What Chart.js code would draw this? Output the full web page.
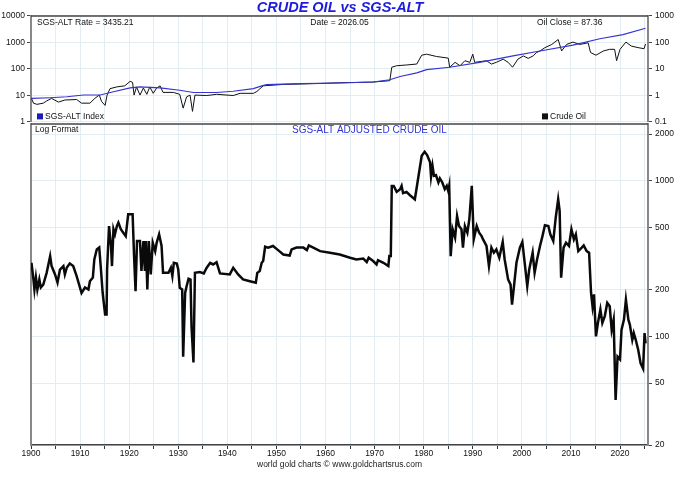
<!DOCTYPE html>
<html>
<head>
<meta charset="utf-8">
<script src="https://cdn.jsdelivr.net/npm/chart.js@4/dist/chart.umd.min.js"></script>
<style>
  html, body { margin: 0; padding: 0; background: #fff; }
  #wrap { position: relative; width: 680px; height: 478px; }
  #topBox { position: absolute; left: 0; top: 0; width: 680px; height: 130px; }
  #botBox { position: absolute; left: 0; top: 114px; width: 680px; height: 364px; }
</style>
</head>
<body>
<div id="wrap">
  <div id="topBox"><canvas id="topChart"></canvas></div>
  <div id="botBox"><canvas id="botChart"></canvas></div>
</div>
<script>
// header numbers
const RATE = 3435.21;
const DATE = '2026.05';
const OIL_CLOSE = 87.36;

// x axis
const X_MIN = 1900;
const X_MAX = 2025.7;
const gridYears = [1900, 1905, 1910, 1915, 1920, 1925, 1930, 1935, 1940, 1945, 1950, 1955, 1960,
  1965, 1970, 1975, 1980, 1985, 1990, 1995, 2000, 2005, 2010, 2015, 2020, 2025];

// tick labels
const topLeftTicks = [1, 10, 100, 1000, 10000];
const topRightTicks = [0.1, 1, 10, 100, 1000];
const botTicks = [20, 50, 100, 200, 500, 1000, 2000];

// top panel: SGS-ALT index (left scale)
const indexYears = [1900.1, 1903.9, 1907.3, 1910.7, 1914.1, 1916.8, 1920.2, 1922.2, 1926.3, 1930.3,
  1933.1, 1937.8, 1941.2, 1945.3, 1947.0, 1948.0, 1954.8, 1962.9, 1969.7, 1973.1, 1975.2, 1978.6,
  1980.6, 1985.3, 1991.4, 1998.2, 2003.7, 2010.4, 2015.9, 2020.6, 2025.2];
const indexValues = [7.7, 8.2, 8.9, 10.3, 10.3, 13.7, 19.3, 21, 19.3, 15.7,
  12.9, 12.9, 14.3, 18.1, 22.9, 25.6, 27.8, 29.4, 32.1, 39, 52, 71,
  94, 116, 177, 311, 476, 794, 1371, 1977, 3435];

// top panel: crude oil (right scale)
const oilYears = [1900.1, 1900.5, 1901.2, 1902.5, 1903.2, 1904.2, 1905.6, 1906.9, 1909.3, 1910.3,
  1912.0, 1913.0, 1913.9, 1914.4, 1915.1, 1915.5, 1916.1, 1917.5, 1919.1, 1920.2, 1920.7, 1921.0,
  1921.5, 1922.2, 1922.9, 1923.6, 1924.2, 1924.9, 1925.6, 1926.3, 1926.9, 1929.0, 1930.3, 1931.0,
  1931.7, 1932.4, 1932.9, 1933.4, 1935.8, 1937.8, 1941.2, 1942.6, 1945.3, 1946.0, 1947.3, 1951.4,
  1958.2, 1962.9, 1969.7, 1973.1, 1973.5, 1974.5, 1976.5, 1978.6, 1979.6, 1980.6, 1982.6, 1985.0,
  1985.3, 1986.4, 1987.4, 1988.4, 1989.4, 1990.0, 1990.4, 1992.8, 1993.8, 1994.8, 1996.2, 1997.2,
  1998.1, 1999.2, 2000.3, 2001.3, 2002.3, 2003.0, 2003.7, 2004.7, 2006.1, 2007.4, 2008.1, 2009.1,
  2010.4, 2011.8, 2013.5, 2014.0, 2015.1, 2016.6, 2017.9, 2018.9, 2019.3, 2020.0, 2021.2, 2022.3,
  2023.7, 2024.9, 2025.2];
const oilValues = [0.77, 0.51, 0.46, 0.51, 0.62, 0.77, 0.56, 0.67, 0.70, 0.51,
  0.51, 0.77, 1.03, 0.58, 0.42, 1.03, 1.8, 2.1, 2.3, 3.4, 3.1, 1.03,
  2.1, 1.03, 1.9, 1.1, 2.1, 1.2, 1.9, 2.3, 1.3, 1.3, 1.1, 0.33,
  0.88, 1.03, 0.25, 1.03, 0.99, 1.1, 0.99, 1.2, 1.2, 1.4, 2.3, 2.6,
  2.8, 3.0, 3.2, 3.6, 11.6, 13.2, 14.1, 15.3, 33, 36, 29.5, 25.6,
  11.6, 17.7, 13.2, 20.4, 17.7, 36, 17.7, 20.4, 15.3, 17.7, 23.4, 17.7,
  11.6, 23.4, 31, 25, 31, 41.5, 47.6, 63.6, 84, 129, 47.6, 84,
  103, 84, 97, 41.5, 33, 47.6, 55, 55, 20.4, 55, 103, 73,
  63.6, 58, 87];

// bottom panel: SGS-ALT adjusted crude oil
const adjYears = [1900.1, 1900.5, 1900.7, 1901.0, 1901.3, 1901.7, 1902.0, 1902.5, 1903.2, 1903.9,
  1904.2, 1904.9, 1905.4, 1905.9, 1906.6, 1906.9, 1907.3, 1907.9, 1908.6, 1909.3, 1910.3, 1911.0,
  1911.7, 1912.0, 1912.6, 1912.9, 1913.4, 1913.9, 1914.2, 1914.6, 1915.1, 1915.4, 1915.5, 1915.9,
  1916.3, 1916.5, 1916.8, 1917.1, 1917.5, 1917.8, 1918.3, 1918.8, 1919.3, 1919.8, 1920.7, 1921.0,
  1921.3, 1921.6, 1922.2, 1922.5, 1922.9, 1923.2, 1923.4, 1923.7, 1924.0, 1924.4, 1924.8, 1925.3,
  1925.6, 1926.1, 1926.6, 1926.9, 1928.0, 1928.5, 1928.8, 1929.1, 1929.7, 1930.0, 1930.3, 1930.8,
  1931.0, 1931.4, 1931.7, 1932.1, 1932.5, 1932.7, 1933.1, 1933.4, 1934.4, 1935.2, 1935.8, 1936.5,
  1937.1, 1937.8, 1938.5, 1940.5, 1941.2, 1942.2, 1943.2, 1944.6, 1945.8, 1946.1, 1946.6, 1947.0,
  1947.3, 1947.7, 1948.3, 1949.3, 1950.4, 1951.4, 1952.7, 1953.1, 1954.1, 1955.5, 1956.2, 1956.6,
  1957.5, 1958.9, 1960.9, 1962.9, 1965.0, 1966.3, 1967.7, 1968.4, 1968.8, 1969.7, 1970.4, 1970.7,
  1971.8, 1972.8, 1973.0, 1973.3, 1973.5, 1973.9, 1974.5, 1975.2, 1975.5, 1975.8, 1976.5, 1977.2,
  1978.2, 1978.9, 1979.6, 1980.2, 1980.7, 1981.3, 1981.5, 1981.8, 1982.1, 1982.5, 1983.0, 1983.3,
  1983.8, 1984.3, 1984.7, 1985.0, 1985.2, 1985.5, 1985.9, 1986.4, 1986.8, 1987.2, 1987.7, 1988.0,
  1988.4, 1988.9, 1989.3, 1989.8, 1990.2, 1990.8, 1991.3, 1991.8, 1992.1, 1992.8, 1993.3, 1993.8,
  1994.3, 1994.8, 1995.4, 1996.1, 1996.5, 1997.2, 1997.7, 1998.0, 1998.4, 1998.9, 1999.6, 2000.1,
  2000.5, 2001.1, 2001.5, 2002.2, 2002.6, 2003.1, 2003.7, 2004.2, 2004.7, 2005.4, 2005.8, 2006.4,
  2006.9, 2007.4, 2007.7, 2008.0, 2008.5, 2009.0, 2009.6, 2010.1, 2010.6, 2011.0, 2011.5, 2012.2,
  2012.6, 2013.2, 2013.7, 2014.1, 2014.4, 2014.7, 2015.1, 2015.5, 2016.0, 2016.4, 2016.9, 2017.4,
  2017.9, 2018.3, 2018.7, 2019.1, 2019.5, 2020.0, 2020.3, 2020.8, 2021.2, 2021.7, 2022.0, 2022.5,
  2022.8, 2023.2, 2023.7, 2024.2, 2024.7, 2025.0, 2025.2];
const adjValues = [297, 232, 200, 239, 200, 232, 206, 215, 257, 328,
  283, 250, 222, 269, 283, 250, 277, 294, 283, 244, 190, 206,
  200, 226, 239, 312, 362, 373, 283, 190, 138, 138, 269, 512,
  381, 283, 488, 453, 512, 539, 488, 464, 441, 609, 609, 328,
  195, 410, 410, 263, 410, 263, 410, 200, 410, 250, 400, 353,
  400, 453, 381, 256, 256, 276, 244, 297, 294, 269, 205, 200,
  74, 190, 210, 235, 232, 116, 68, 256, 259, 254, 276, 297,
  290, 300, 254, 250, 276, 250, 232, 226, 221, 256, 263, 297,
  305, 377, 372, 381, 357, 336, 331, 362, 372, 372, 359, 384,
  372, 353, 345, 336, 320, 312, 316, 300, 320, 305, 290, 309,
  297, 283, 328, 328, 928, 928, 849, 884, 928, 833, 849, 808,
  761, 1051, 1449, 1537, 1464, 1314, 1067, 1249, 1077, 1088, 976, 1036,
  976, 884, 928, 861, 928, 328, 488, 431, 594, 512, 488, 372,
  512, 464, 566, 928, 420, 512, 464, 441, 420, 381, 283, 372,
  345, 362, 320, 404, 312, 232, 215, 160, 210, 297, 372, 404,
  312, 210, 269, 345, 256, 312, 381, 441, 518, 512, 453, 410,
  580, 761, 640, 238, 372, 400, 381, 488, 420, 453, 353, 372,
  384, 353, 345, 190, 156, 186, 100, 122, 149, 122, 135, 164,
  156, 110, 128, 39, 74, 71, 110, 128, 172, 128, 119, 95,
  105, 95, 82, 67, 62, 105, 90];

const FONT = "'Liberation Sans', Arial, sans-serif";
const GRID = '#e2edf1';
const BLUE = '#3434d2';

function pairs(xs, ys) {
  return xs.map((x, i) => ({ x: x, y: ys[i] }));
}
function fixedTicks(list) {
  return scale => { scale.ticks = list.map(v => ({ value: v })); };
}
const tickFont = { family: FONT, size: 8.5 };

// border along the top of the plot area
const topLine = {
  id: 'topLine',
  afterDraw(chart) {
    const a = chart.chartArea, ctx = chart.ctx;
    ctx.save();
    ctx.strokeStyle = '#444';
    ctx.lineWidth = 1.5;
    ctx.beginPath();
    ctx.moveTo(a.left, a.top);
    ctx.lineTo(a.right, a.top);
    ctx.stroke();
    ctx.restore();
  }
};

// small captions inside the panels
const captions = {
  id: 'captions',
  afterDraw(chart, args, opts) {
    const a = chart.chartArea, ctx = chart.ctx;
    ctx.save();
    ctx.textBaseline = 'middle';
    for (const it of opts.items || []) {
      const x = it.from === 'right' ? a.right - it.dx : (it.from === 'center' ? (a.left + a.right) / 2 + it.dx : a.left + it.dx);
      const y = it.from2 === 'bottom' ? a.bottom - it.dy : a.top + it.dy;
      if (it.box) {
        ctx.fillStyle = it.box;
        ctx.fillRect(x - 8, y - 3, 6, 6);
      }
      ctx.font = (it.size || 8.5) + 'px ' + FONT;
      ctx.fillStyle = it.color || '#111';
      ctx.textAlign = it.align || 'left';
      ctx.fillText(it.text, x, y);
    }
    ctx.restore();
  }
};

new Chart(document.getElementById('topChart'), {
  type: 'line',
  data: {
    datasets: [
      { label: 'SGS-ALT Index', data: pairs(indexYears, indexValues), yAxisID: 'yL',
        borderColor: BLUE, borderWidth: 1.1, pointRadius: 0, tension: 0 },
      { label: 'Crude Oil', data: pairs(oilYears, oilValues), yAxisID: 'yR',
        borderColor: '#111', borderWidth: 1, pointRadius: 0, tension: 0 }
    ]
  },
  options: {
    responsive: true,
    maintainAspectRatio: false,
    animation: false,
    layout: { padding: 0 },
    plugins: {
      legend: { display: false },
      tooltip: { enabled: false },
      title: {
        display: true, text: 'CRUDE OIL vs SGS-ALT', color: '#1c1cdc', padding: 0,
        font: { family: FONT, size: 14.5, weight: 'bold', style: 'italic', lineHeight: 1.1 }
      },
      captions: {
        items: [
          { text: 'SGS-ALT Rate = ' + RATE.toFixed(2), dx: 6, dy: 6.5 },
          { text: 'Date = ' + DATE, from: 'center', dx: 0, dy: 6.5, align: 'center' },
          { text: 'Oil Close = ' + OIL_CLOSE.toFixed(2), from: 'right', dx: 111, dy: 6.5 },
          { text: 'SGS-ALT Index', dx: 14, from2: 'bottom', dy: 5.5, box: '#1c1cb4' },
          { text: 'Crude Oil', from: 'right', dx: 98, from2: 'bottom', dy: 5.5, box: '#111' }
        ]
      }
    },
    scales: {
      x: {
        type: 'linear', min: X_MIN, max: X_MAX,
        afterBuildTicks: fixedTicks(gridYears),
        ticks: { display: false },
        grid: { color: GRID, drawTicks: false },
        border: { display: false },
        afterFit: s => { s.height = 6; }
      },
      yL: {
        type: 'logarithmic', position: 'left', min: 1, max: 10000,
        afterBuildTicks: fixedTicks(topLeftTicks),
        ticks: { callback: v => String(v), font: tickFont, color: '#111', padding: 2 },
        grid: { color: GRID, tickColor: '#444', tickLength: 4 },
        border: { color: '#888', width: 2 },
        afterFit: s => { s.width = 31; }
      },
      yR: {
        type: 'logarithmic', position: 'right', min: 0.1, max: 1000,
        afterBuildTicks: fixedTicks(topRightTicks),
        ticks: { callback: v => String(v), font: tickFont, color: '#111', padding: 3 },
        grid: { drawOnChartArea: false, tickColor: '#444', tickLength: 4 },
        border: { color: '#888', width: 2 },
        afterFit: s => { s.width = 32; }
      }
    }
  },
  plugins: [topLine, captions]
});

new Chart(document.getElementById('botChart'), {
  type: 'line',
  data: {
    datasets: [
      { label: 'SGS-ALT Adjusted Crude Oil', data: pairs(adjYears, adjValues), yAxisID: 'yR',
        borderColor: '#0a0a0a', borderWidth: 2.5, pointRadius: 0, tension: 0 }
    ]
  },
  options: {
    responsive: true,
    maintainAspectRatio: false,
    animation: false,
    layout: { padding: { top: 10 } },
    plugins: {
      legend: { display: false },
      tooltip: { enabled: false },
      captions: {
        items: [
          { text: 'Log Format', dx: 4, dy: 5.5 },
          { text: 'SGS-ALT ADJUSTED CRUDE OIL', from: 'center', dx: 30, dy: 6, align: 'center', size: 10, color: BLUE }
        ]
      }
    },
    scales: {
      x: {
        type: 'linear', min: X_MIN, max: X_MAX,
        afterBuildTicks: fixedTicks(gridYears),
        ticks: {
          callback: v => (v % 10 === 0 ? String(v) : ''),
          font: tickFont, color: '#111', padding: 0, maxRotation: 0, autoSkip: false
        },
        grid: { color: GRID, tickColor: '#333', tickLength: 4 },
        border: { color: '#444', width: 1.5 },
        title: {
          display: true, text: 'world gold charts © www.goldchartsrus.com',
          color: '#222', font: { family: FONT, size: 8.5 }, padding: { top: 0, bottom: 8 }
        },
        afterFit: s => { s.height = 33; }
      },
      yL: {
        type: 'logarithmic', position: 'left', min: 20, max: 2320,
        ticks: { display: false },
        grid: { display: false },
        border: { color: '#888', width: 2 },
        afterFit: s => { s.width = 31; }
      },
      yR: {
        type: 'logarithmic', position: 'right', min: 20, max: 2320,
        afterBuildTicks: fixedTicks(botTicks),
        ticks: { callback: v => String(v), font: tickFont, color: '#111', padding: 3 },
        grid: { color: GRID, tickColor: '#444', tickLength: 4 },
        border: { color: '#888', width: 2 },
        afterFit: s => { s.width = 32; }
      }
    }
  },
  plugins: [topLine, captions]
});
</script>
</body>
</html>
